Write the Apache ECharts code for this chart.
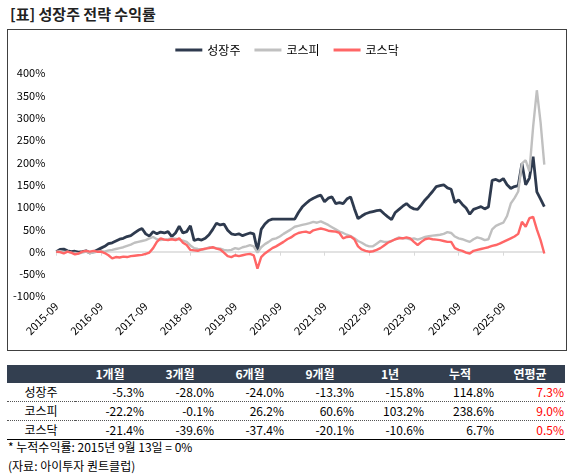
<!DOCTYPE html>
<html>
<head>
<meta charset="utf-8">
<script src="https://cdn.jsdelivr.net/npm/echarts@6/dist/echarts.min.js"></script>
<style>
  body { margin: 0; width: 573px; height: 476px; background: #fff; position: relative; overflow: hidden;
         font-family: "Noto Sans CJK KR", "Noto Sans", sans-serif; color: #000; }
  #title { position: absolute; left: 10px; top: 3px; font-size: 15px; font-weight: bold; color: #222; }
  #frame { position: absolute; left: 7px; top: 29px; width: 560px; height: 322px;
           border: 1.5px solid #404040; box-sizing: border-box; }
  #chart { position: absolute; left: 7px; top: 29px; width: 560px; height: 322px; }
  #tbl { position: absolute; left: 7px; top: 365px; border-collapse: collapse; table-layout: fixed; font-size: 12px; }
  #tbl td, #tbl th { height: 18px; padding: 0; line-height: 18px; white-space: nowrap; }
  #tbl th { background: #333f50; color: #fff; font-weight: bold; text-align: center; }
  #tbl td { text-align: right; padding-right: 1px; }
  #tbl td.lab { text-align: center; padding-right: 0; }
  #tbl td.red { color: #ff0000; }
  #tbl tr.dot td { border-bottom: 1px dotted #555; }
  #tbl tr.last td { border-bottom: 1.5px solid #000; }
  .note { position: absolute; left: 8px; font-size: 12px; color: #000; }
</style>
</head>
<body>
<div id="title">[표] 성장주 전략 수익률</div>
<div id="frame"></div>
<div id="chart"></div>
<table id="tbl"></table>
<div class="note" style="top:438px">* 누적수익률: 2015년 9월 13일 = 0%</div>
<div class="note" style="top:457px">(자료: 아이투자 퀀트클럽)</div>
<script>
// monthly points, 2015-09 .. 2026-08
let months = [];
for (let i = 0; i < 132; i++) {
    let y = 2015 + Math.floor((8 + i) / 12);
    let m = (8 + i) % 12 + 1;
    months.push(y + '-' + (m < 10 ? '0' + m : m));
}

let growth = [
    0, 5, 6, 2, 0, 1, -1, 0, 2, -3, 0, 4,
    8, 12, 18, 20, 24, 28, 30, 34, 36, 42, 48, 52,
    40, 35, 45, 40, 44, 42, 45, 34, 42, 57, 42, 45,
    58, 25, 28, 26, 30, 38, 50, 64, 60, 62, 48, 40,
    38, 40, 36, 39, 42, 40, 2, 50, 62, 70, 73, 73,
    73, 73, 73, 73, 73, 88, 100, 108, 115, 120, 124, 127,
    112, 120, 123, 108, 110, 108, 118, 123, 97, 74, 80, 85,
    88, 90, 92, 93, 85, 78, 72, 88, 95, 102, 108, 100,
    96, 95, 105, 116, 125, 135, 146, 148, 150, 143, 140, 110,
    116, 106, 98, 84, 95, 98, 101, 96, 100, 160, 162, 158,
    164, 150, 142, 146, 148, 198, 150, 165, 213, 134, 118, 101
];
let kospi = [
    0, 1, -1, 0, -2, -3, -4, -2, 0, -3, -2, 0,
    1, 0, 3, 4, 6, 8, 10, 13, 16, 20, 22, 24,
    26, 30, 33, 28, 26, 27, 28, 30, 29, 27, 25, 22,
    14, 8, 6, 5, 6, 10, 9, 8, 7, 4, 3, 4,
    8, 6, 10, 12, 15, 12, -2, 10, 17, 22, 28, 30,
    34, 40, 45, 50, 56, 58, 60, 62, 64, 67, 65, 68,
    64, 60, 55, 50, 45, 42, 38, 35, 30, 24, 20, 15,
    12, 12, 18, 24, 22, 22, 24, 28, 32, 30, 30, 28,
    30, 27, 30, 33, 35, 36, 37, 38, 40, 44, 42, 34,
    30, 28, 25, 22, 28, 32, 30, 26, 28, 50, 58, 62,
    65, 80, 108, 120, 135, 198, 205, 180, 280, 362, 290, 195
];
let kosdaq = [
    0, -1, -4, 0, -2, -6, -4, 0, 2, 0, 2, 0,
    0, -3, -8, -15, -12, -13, -11, -12, -10, -9, -8, -7,
    -5, -2, 8, 22, 30, 27, 26, 28, 26, 30, 20, 15,
    4, 3, 2, 5, 7, 8, 10, 7, 5, -2, -10, -12,
    -8, -10, -8, -6, -5, -8, -38, -12, -4, 2, 8, 12,
    17, 22, 28, 32, 38, 42, 44, 45, 42, 48, 50, 52,
    50, 47, 46, 45, 42, 30, 33, 34, 28, 12, 5, 2,
    0, 1, 4, 8, 14, 20, 24, 28, 30, 30, 32, 30,
    22, 15, 22, 28, 30, 28, 27, 26, 24, 22, 22, 8,
    4, 2, -2, -4, 2, 4, 6, 8, 10, 13, 15, 18,
    22, 26, 30, 34, 40, 67, 56, 75, 78, 50, 26, -4
];

let seriesNames = ['성장주', '코스피', '코스닥'];
let seriesColors = ['#2e3a4e', '#c0c0c0', '#ff6666'];

// table below the chart
let colHeads = ['', '1개월', '3개월', '6개월', '9개월', '1년', '누적', '연평균'];
let rowNames = ['성장주', '코스피', '코스닥'];
let rowVals = [
    ['-5.3%', '-28.0%', '-24.0%', '-13.3%', '-15.8%', '114.8%', '7.3%'],
    ['-22.2%', '-0.1%', '26.2%', '60.6%', '103.2%', '238.6%', '9.0%'],
    ['-21.4%', '-39.6%', '-37.4%', '-20.1%', '-10.6%', '6.7%', '0.5%']
];

let html = '<colgroup><col style="width:68px">';
for (let i = 1; i < colHeads.length; i++) html += '<col style="width:70px">';
html += '</colgroup><tr>';
colHeads.forEach(h => html += '<th>' + h + '</th>');
html += '</tr>';
rowNames.forEach((r, i) => {
    html += '<tr class="' + (i < rowNames.length - 1 ? 'dot' : 'last') + '"><td class="lab">' + r + '</td>';
    rowVals[i].forEach((v, j) => {
        html += '<td' + (j === rowVals[i].length - 1 ? ' class="red"' : '') + '>' + v + '</td>';
    });
    html += '</tr>';
});
document.getElementById('tbl').innerHTML = html;

let font = '"Noto Sans CJK KR", "Noto Sans", sans-serif';
let chart = echarts.init(document.getElementById('chart'));
chart.setOption({
    animation: false,
    textStyle: {fontFamily: font},
    legend: {
        top: 10,
        left: 'center',
        icon: 'rect',
        itemWidth: 27,
        itemHeight: 3,
        itemGap: 14,
        textStyle: {fontSize: 12, color: '#000', fontFamily: font},
        data: seriesNames
    },
    grid: {left: 49.3, right: 22.7, top: 44.3, bottom: 54.7},
    xAxis: [{
        type: 'category',
        data: months,
        boundaryGap: false,
        axisLine: {onZero: true, lineStyle: {color: '#d9d9d9', width: 1.5}},
        axisTick: {interval: 11, length: 4, lineStyle: {color: '#d9d9d9'}},
        axisLabel: {show: false},
        splitLine: {show: false}
    }, {
        type: 'category',
        data: months,
        boundaryGap: false,
        position: 'bottom',
        axisLine: {show: false, onZero: false},
        axisTick: {show: false},
        axisLabel: {interval: 11, rotate: 45, margin: 8, fontSize: 11, color: '#000', fontFamily: font},
        splitLine: {show: false}
    }],
    yAxis: {
        type: 'value',
        min: -100,
        max: 400,
        interval: 50,
        axisLine: {show: false},
        axisTick: {show: false},
        splitLine: {show: false},
        axisLabel: {formatter: '{value}%', fontSize: 11, color: '#000', margin: 11, fontFamily: font}
    },
    series: [growth, kospi, kosdaq].map((d, i) => ({
        name: seriesNames[i],
        type: 'line',
        xAxisIndex: 0,
        data: d,
        symbol: 'none',
        lineStyle: {width: i === 0 ? 2.8 : 2.4, color: seriesColors[i]},
        itemStyle: {color: seriesColors[i]}
    }))
});
</script>
</body>
</html>
